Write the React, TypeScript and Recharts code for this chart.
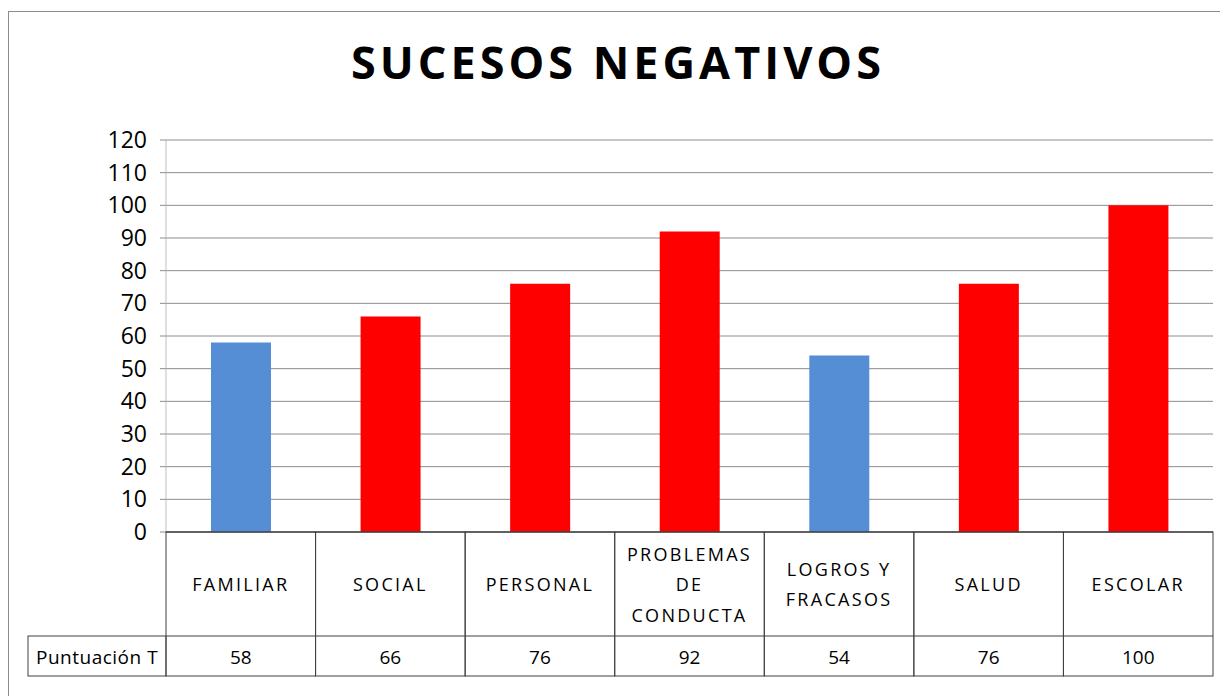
import { BarChart, Bar, XAxis, YAxis, CartesianGrid, Cell } from "recharts";

const chartTitle = "SUCESOS NEGATIVOS";
const rowLabel = "Puntuación T";
const categories = [
  "FAMILIAR",
  "SOCIAL",
  "PERSONAL",
  "PROBLEMAS\nDE\nCONDUCTA",
  "LOGROS Y\nFRACASOS",
  "SALUD",
  "ESCOLAR",
];
const puntuacionT = [58, 66, 76, 92, 54, 76, 100];
const yTicks = [0, 10, 20, 30, 40, 50, 60, 70, 80, 90, 100, 110, 120];

const BLUE = "#558ed5";
const RED = "#ff0000";
const FONT = "'Open Sans', sans-serif";
const TABLE_STROKE = "#404040";

const data = categories.map((c, i) => ({ category: c, value: puntuacionT[i] }));

// scores under 60 are shown in blue, the rest in red
const barColor = (v: number) => (v < 60 ? BLUE : RED);

function TableTick(props: any) {
  const { x, y, payload, width, visibleTicksCount } = props;
  const index = payload?.index ?? props.index ?? 0;
  const band =
    width && visibleTicksCount ? width / visibleTicksCount : 149.6;
  const left = x - band / 2;
  const headH = 104;
  const rowH = 40;
  const lineH = 30.5;
  const lines = String(payload.value).split("\n");
  const firstY = y + headH / 2 - ((lines.length - 1) * lineH) / 2;
  return (
    <g>
      <rect
        x={left}
        y={y}
        width={band}
        height={headH + rowH}
        fill="none"
        stroke={TABLE_STROKE}
      />
      <line
        x1={left}
        x2={left + band}
        y1={y + headH}
        y2={y + headH}
        stroke={TABLE_STROKE}
      />
      {lines.map((l, k) => (
        <text
          key={k}
          x={x}
          y={firstY + k * lineH}
          textAnchor="middle"
          dominantBaseline="central"
          fontFamily={FONT}
          fontSize={18}
          letterSpacing={2.3}
          fill="#000"
        >
          {l}
        </text>
      ))}
      <text
        x={x}
        y={y + headH + rowH / 2 + 1}
        textAnchor="middle"
        dominantBaseline="central"
        fontFamily={FONT}
        fontSize={19}
        fill="#000"
      >
        {puntuacionT[index]}
      </text>
      {index === 0 && (
        <g>
          <rect
            x={left - 138}
            y={y + headH}
            width={138}
            height={rowH}
            fill="none"
            stroke={TABLE_STROKE}
          />
          <text
            x={left - 130}
            y={y + headH + rowH / 2 + 1}
            dominantBaseline="central"
            fontFamily={FONT}
            fontSize={19}
            letterSpacing={0.5}
            fill="#000"
          >
            {rowLabel}
          </text>
        </g>
      )}
    </g>
  );
}

export default function App() {
  return (
    <div
      style={{
        position: "fixed",
        left: 0,
        top: 0,
        width: 1220,
        height: 696,
        overflow: "hidden",
        fontFamily: FONT,
        background: "#fff",
      }}
    >
      <div
        style={{
          position: "absolute",
          left: 8,
          top: 11,
          width: 1300,
          height: 800,
          border: "1px solid #8c8c8c",
          boxSizing: "border-box",
        }}
      />
      <div
        style={{
          position: "absolute",
          left: 12,
          top: 39,
          width: 1212,
          textAlign: "center",
          fontFamily: FONT,
          fontSize: 45,
          lineHeight: "45px",
          fontWeight: 700,
          letterSpacing: 4,
          color: "#000",
        }}
      >
        {chartTitle}
      </div>
      <BarChart
        width={1212}
        height={688}
        data={data}
        margin={{ top: 132, right: 7, bottom: 20, left: 0 }}
        barSize={60}
        style={{ position: "absolute", left: 8, top: 8 }}
      >
        <CartesianGrid vertical={false} stroke="#8c8c8c" />
        <YAxis
          domain={[0, 120]}
          ticks={yTicks}
          interval={0}
          width={158}
          stroke="#bfbfbf"
          tickLine={{ stroke: "#8c8c8c" }}
          tickSize={6}
          tickMargin={13}
          tick={{ fill: "#000", fontSize: 23, fontFamily: FONT }}
        />
        <XAxis
          dataKey="category"
          interval={0}
          height={144}
          axisLine={{ stroke: TABLE_STROKE }}
          tickLine={false}
          tickSize={0}
          tickMargin={0}
          tick={<TableTick />}
        />
        <Bar dataKey="value" isAnimationActive={false}>
          {data.map((d, i) => (
            <Cell key={i} fill={barColor(d.value)} />
          ))}
        </Bar>
      </BarChart>
    </div>
  );
}
